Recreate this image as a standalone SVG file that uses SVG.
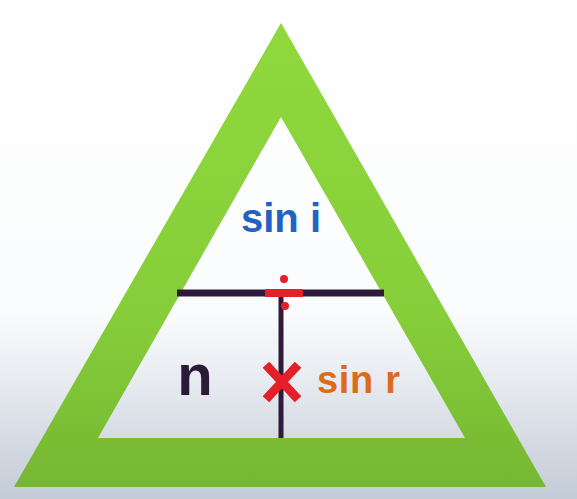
<svg xmlns="http://www.w3.org/2000/svg" width="577" height="499" viewBox="0 0 577 499">
  <defs>
    <linearGradient id="bg" x1="0" y1="0" x2="0" y2="1">
      <stop offset="0" stop-color="#ffffff"/>
      <stop offset="0.62" stop-color="#fbfcfd"/>
      <stop offset="0.75" stop-color="#e9edf2"/>
      <stop offset="1" stop-color="#c3cbd6"/>
    </linearGradient>
    <linearGradient id="green" x1="0" y1="0" x2="0" y2="1">
      <stop offset="0" stop-color="#8fd83c"/>
      <stop offset="0.6" stop-color="#87cf3a"/>
      <stop offset="1" stop-color="#76b732"/>
    </linearGradient>
    <style>
      .lbl { font-family: "Liberation Sans", Arial, sans-serif; font-weight: bold; }
      .bar { stroke: #2f1a3c; stroke-linecap: butt; }
      .red { fill: #e3202a; }
    </style>
  </defs>
  <rect x="0" y="0" width="577" height="499" fill="url(#bg)"/>
  <g id="triangle">
    <path d="M281,23 L546,487 L14,487 Z M281,117 L98,438 L465,438 Z" fill="url(#green)" fill-rule="evenodd"/>
  </g>
  <g id="connectors">
    <line class="bar" x1="177" y1="293" x2="384" y2="293" stroke-width="7"/>
    <line class="bar" x1="281" y1="293" x2="281" y2="438" stroke-width="5"/>
  </g>
  <g id="divide">
    <rect class="red" x="265" y="289" width="38" height="8"/>
    <circle class="red" cx="284" cy="279" r="4"/>
    <circle class="red" cx="285" cy="306" r="4"/>
  </g>
  <g id="times">
    <path d="M269,368 L295,396 M295,368 L269,396" stroke="#e3202a" stroke-width="9" stroke-linecap="square"/>
  </g>
  <g id="sin-i">
    <text class="lbl" x="281" y="232" font-size="40" fill="#2162c4" text-anchor="middle">sin i</text>
  </g>
  <g id="n">
    <text class="lbl" x="195" y="395" font-size="58" fill="#2d1a38" text-anchor="middle">n</text>
  </g>
  <g id="sin-r">
    <text class="lbl" x="317" y="393" font-size="38" fill="#dc6b1c" textLength="83">sin r</text>
  </g>
</svg>
